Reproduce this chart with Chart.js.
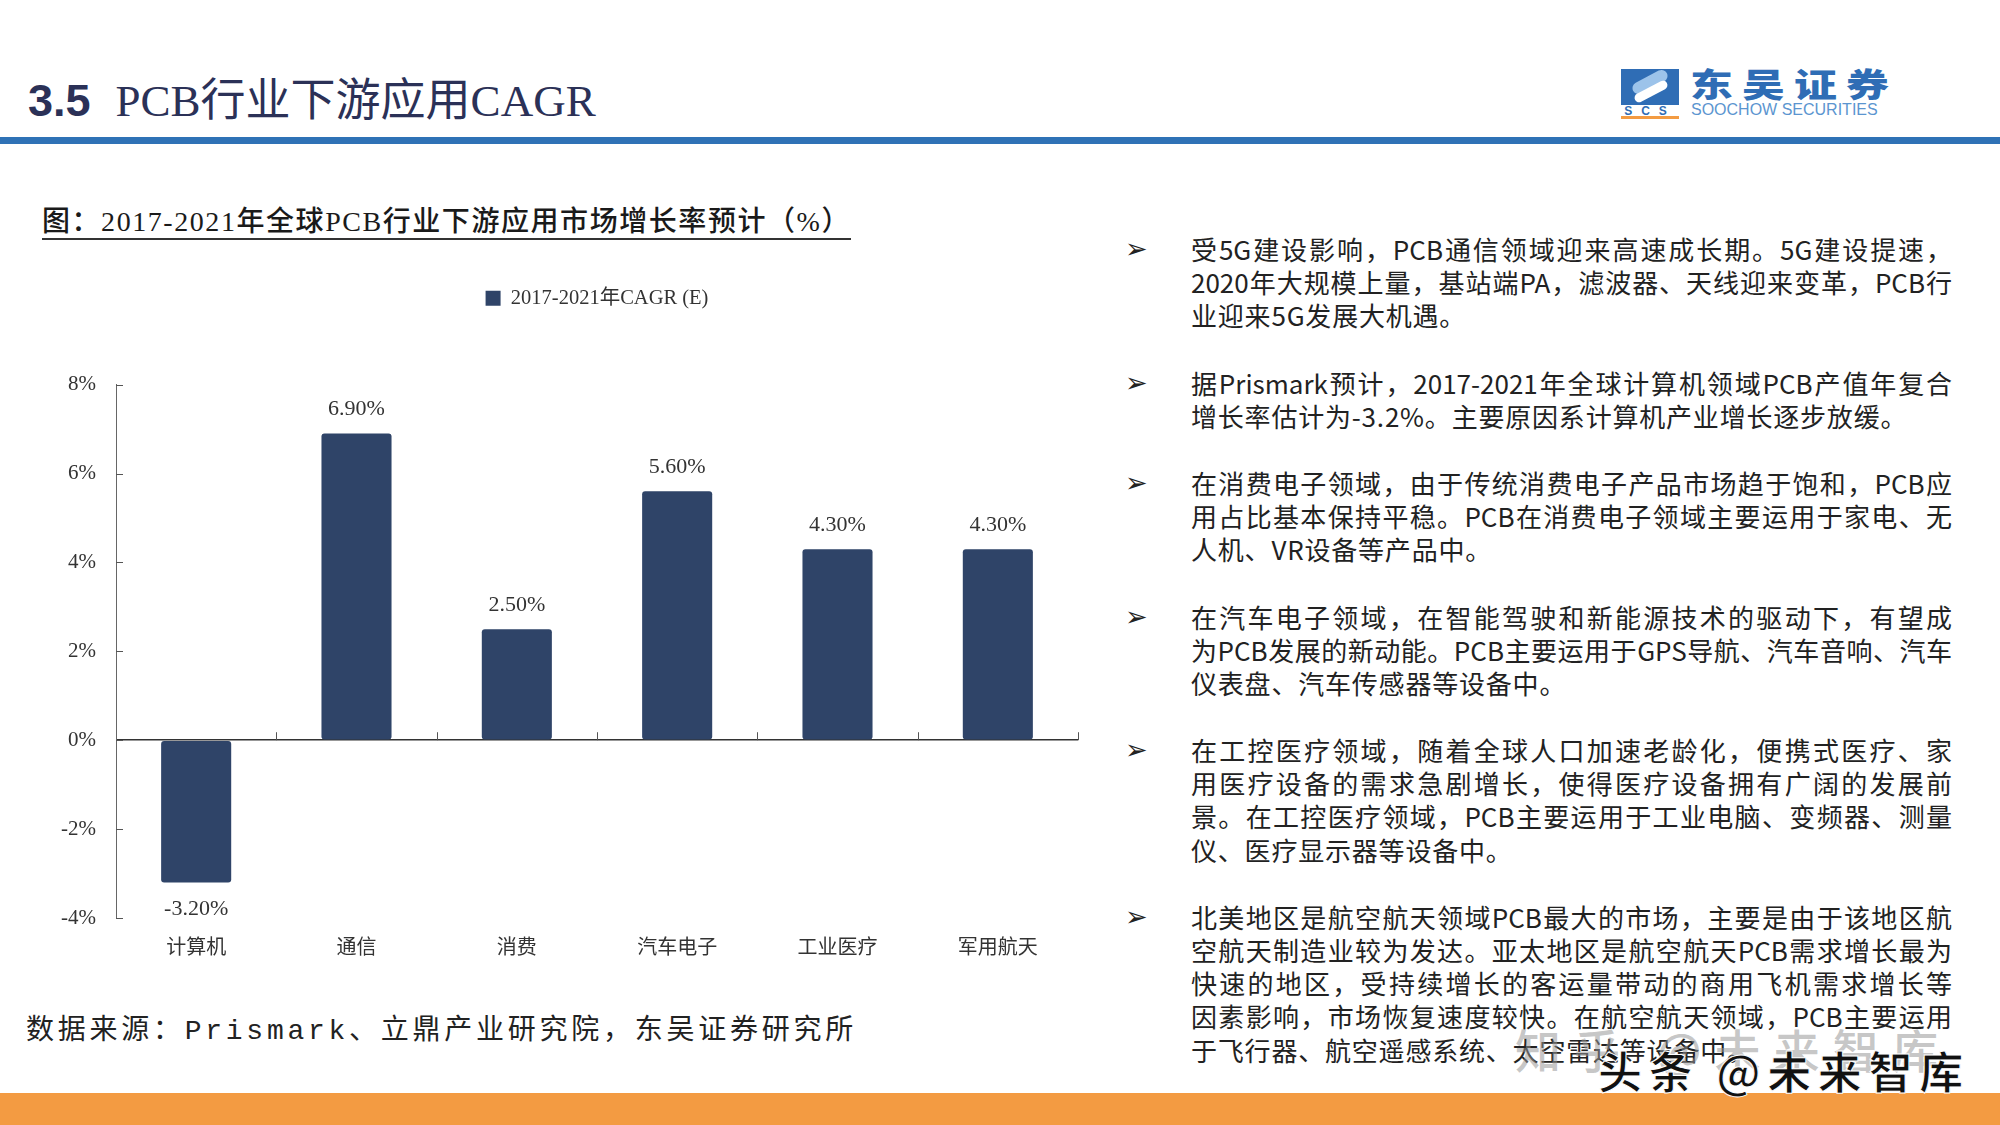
<!DOCTYPE html>
<html>
<head>
<meta charset="utf-8">
<script src="https://cdn.jsdelivr.net/npm/chart.js@4.4.0/dist/chart.umd.min.js"></script>
<style>
  html, body { margin: 0; padding: 0; background: #fff; }
  #page { position: relative; width: 2000px; height: 1125px; overflow: hidden; background: #fff; }
  .abs { position: absolute; white-space: nowrap; }
  #title { left: 28px; top: 64px; height: 50px; line-height: 50px; color: #2b3157; }
  #title .num { font: bold 45px "Liberation Sans", Arial, sans-serif; }
  #title .ttl { font: 45px "Liberation Serif", "Noto Sans CJK SC", serif; margin-left: 25px; }
  #rule { left: 0; top: 137px; width: 2000px; height: 7px; background: #2f72b6; }
  #orange { left: 0; top: 1093px; width: 2000px; height: 32px; background: #f39b42; }
  #logoIcon { left: 1621px; top: 69px; width: 58px; height: 36px; background: #2f6db5; overflow: hidden; }
  #logoIcon .s1 { position: absolute; left: 10px; top: 7px; width: 38px; height: 12px; border-radius: 8px; background: #9cc3ea; transform: rotate(-28deg); }
  #logoIcon .s2 { position: absolute; left: 12px; top: 18px; width: 36px; height: 9px; border-radius: 6px; background: #fff; transform: rotate(-28deg); }
  #logoScs { left: 1621px; top: 104px; width: 58px; font: bold 12px "Liberation Sans", sans-serif; color: #2f6db5; letter-spacing: 9px; text-align: center; }
  #logoLine { left: 1621px; top: 116px; width: 58px; height: 3px; background: #f39b42; }
  #logoCn { left: 1690px; top: 62px; font: 900 33px "Noto Sans CJK SC", sans-serif; color: #2f6db5; transform: scaleX(1.3); transform-origin: left top; letter-spacing: 7px; line-height: 42px; }
  #logoEn { left: 1691px; top: 101px; font: 16px "Liberation Sans", sans-serif; color: #5b95d0; line-height: 18px; }
  #subtitle { left: 42px; top: 206px; font: 500 28px "Liberation Serif", "Noto Sans CJK SC", serif; color: #1a1a1a; line-height: 32px; border-bottom: 2px solid #333; }
  #source { left: 26px; top: 1014px; font: 28px "Liberation Mono", "Noto Sans CJK SC", monospace; color: #222; line-height: 36px; }
  #chartBox { left: 0; top: 0; width: 1100px; height: 980px; }
  #notes { left: 1191px; top: 232px; width: 761px; font: 26px "Noto Sans CJK SC", sans-serif; color: #222; }
  #notes .para { position: relative; margin-bottom: 34px; }
  #notes .line { height: 33.2px; line-height: 33.2px; white-space: nowrap; letter-spacing: 0.8px; }
  #notes .line.full { text-align: justify; text-align-last: justify; letter-spacing: 0; overflow: hidden; }
  #notes .bullet { position: absolute; left: -66px; top: 0; font: 27px "DejaVu Sans", sans-serif; line-height: 33.2px; color: #222; }
  #wm1 { left: 1515px; top: 1020px; font: 500 46px "Noto Sans CJK SC", sans-serif; color: rgba(150,150,150,0.55); line-height: 56px; }
  #wm2 { left: 1598px; top: 1043px; font: 700 44px "Noto Sans CJK SC", sans-serif; color: #111; -webkit-text-stroke: 1px #fff; line-height: 54px; }
</style>
</head>
<body>
<div id="page">
  <div id="title" class="abs"><span class="num">3.5</span><span class="ttl">PCB行业下游应用CAGR</span></div>
  <div id="logoIcon" class="abs"><div class="s1"></div><div class="s2"></div></div>
  <div id="logoScs" class="abs">SCS</div>
  <div id="logoLine" class="abs"></div>
  <div id="logoCn" class="abs">东吴证券</div>
  <div id="logoEn" class="abs">SOOCHOW SECURITIES</div>
  <div id="rule" class="abs"></div>
  <div id="subtitle" class="abs">图：2017-2021年全球PCB行业下游应用市场增长率预计（%）</div>
  <div id="chartBox" class="abs"><canvas id="chart" width="1100" height="980"></canvas></div>
  <div id="source" class="abs">数据来源：Prismark、立鼎产业研究院，东吴证券研究所</div>
  <div id="notes" class="abs"></div>
  <div id="orange" class="abs"></div>
  <div id="wm1" class="abs">知乎 @未来智库</div>
  <div id="wm2" class="abs">头条 @未来智库</div>
</div>
<script>
const categories = ['计算机', '通信', '消费', '汽车电子', '工业医疗', '军用航天'];
const cagrValues = [-3.2, 6.9, 2.5, 5.6, 4.3, 4.3];
const seriesName = '2017-2021年CAGR (E)';
const yMin = -4;
const yMax = 8;
const yStep = 2;

const notes = [
  ['受5G建设影响，PCB通信领域迎来高速成长期。5G建设提速，',
   '2020年大规模上量，基站端PA，滤波器、天线迎来变革，PCB行',
   '业迎来5G发展大机遇。'],
  ['据Prismark预计，2017-2021年全球计算机领域PCB产值年复合',
   '增长率估计为-3.2%。主要原因系计算机产业增长逐步放缓。'],
  ['在消费电子领域，由于传统消费电子产品市场趋于饱和，PCB应',
   '用占比基本保持平稳。PCB在消费电子领域主要运用于家电、无',
   '人机、VR设备等产品中。'],
  ['在汽车电子领域，在智能驾驶和新能源技术的驱动下，有望成',
   '为PCB发展的新动能。PCB主要运用于GPS导航、汽车音响、汽车',
   '仪表盘、汽车传感器等设备中。'],
  ['在工控医疗领域，随着全球人口加速老龄化，便携式医疗、家',
   '用医疗设备的需求急剧增长，使得医疗设备拥有广阔的发展前',
   '景。在工控医疗领域，PCB主要运用于工业电脑、变频器、测量',
   '仪、医疗显示器等设备中。'],
  ['北美地区是航空航天领域PCB最大的市场，主要是由于该地区航',
   '空航天制造业较为发达。亚太地区是航空航天PCB需求增长最为',
   '快速的地区，受持续增长的客运量带动的商用飞机需求增长等',
   '因素影响，市场恢复速度较快。在航空航天领域，PCB主要运用',
   '于飞行器、航空遥感系统、太空雷达等设备中。']
];

const notesBox = document.getElementById('notes');
notes.forEach(lines => {
  const p = document.createElement('div');
  p.className = 'para';
  const b = document.createElement('div');
  b.className = 'bullet';
  b.textContent = '➢';
  p.appendChild(b);
  lines.forEach((t, i) => {
    const l = document.createElement('div');
    l.className = i < lines.length - 1 ? 'line full' : 'line';
    l.textContent = t;
    p.appendChild(l);
  });
  notesBox.appendChild(p);
});

function fitWidth(id, target) {
  const el = document.getElementById(id);
  el.style.display = 'inline-block';
  el.style.letterSpacing = '0px';
  const w = el.getBoundingClientRect().width;
  const n = el.textContent.length;
  el.style.letterSpacing = ((target - w) / n) + 'px';
}
fitWidth('subtitle', 809);
fitWidth('source', 831);
fitWidth('wm1', 436);
fitWidth('wm2', 372);

// ticks drawn inward from the axes, like the original chart
const innerTicks = {
  id: 'innerTicks',
  afterDatasetsDraw(chart) {
    const {ctx, chartArea, scales: {x, y}} = chart;
    ctx.save();
    ctx.strokeStyle = '#555';
    ctx.lineWidth = 1;
    y.ticks.forEach(t => {
      const py = Math.round(y.getPixelForValue(t.value)) + 0.5;
      ctx.beginPath();
      ctx.moveTo(chartArea.left, py);
      ctx.lineTo(chartArea.left + 7, py);
      ctx.stroke();
    });
    const zero = y.getPixelForValue(0);
    for (let i = 0; i < categories.length; i++) {
      const px = Math.round((x.getPixelForValue(i) + x.getPixelForValue(i + 1)) / 2) + 0.5;
      ctx.beginPath();
      ctx.moveTo(px, zero);
      ctx.lineTo(px, zero - 8);
      ctx.stroke();
    }
    ctx.restore();
  }
};

const valueLabels = {
  id: 'valueLabels',
  afterDatasetsDraw(chart) {
    const {ctx} = chart;
    const meta = chart.getDatasetMeta(0);
    ctx.save();
    ctx.font = '22px "Liberation Serif", serif';
    ctx.fillStyle = '#333';
    ctx.textAlign = 'center';
    ctx.textBaseline = 'middle';
    meta.data.forEach((bar, i) => {
      const v = cagrValues[i];
      const ty = v >= 0 ? bar.y - 24 : bar.y + 27;
      ctx.fillText(v.toFixed(2) + '%', bar.x, ty);
    });
    ctx.restore();
  }
};

new Chart(document.getElementById('chart').getContext('2d'), {
  type: 'bar',
  data: {
    labels: categories,
    datasets: [{
      label: seriesName,
      data: cagrValues,
      backgroundColor: '#2f4468',
      borderRadius: 3,
      borderSkipped: false,
      categoryPercentage: 1,
      barPercentage: 0.437
    }]
  },
  options: {
    responsive: false,
    animation: false,
    layout: { padding: { top: 278, left: 0, right: 22, bottom: 0 } },
    plugins: {
      legend: {
        position: 'top',
        fullSize: false,
        labels: {
          boxWidth: 15,
          boxHeight: 15,
          padding: 10,
          color: '#333',
          font: { family: '"Liberation Serif", "Noto Sans CJK SC", serif', size: 20.5 }
        }
      },
      // empty spacer between legend and plot area
      subtitle: {
        display: true,
        text: '',
        weight: 500,
        font: { size: 1 },
        padding: { top: 0, bottom: 65 }
      },
      tooltip: { enabled: false }
    },
    scales: {
      x: {
        grid: { display: false },
        border: { display: false },
        ticks: {
          color: '#333',
          padding: 8,
          font: { family: '"Noto Sans CJK SC", sans-serif', size: 20 }
        },
        afterFit: s => { s.height = 62; }
      },
      y: {
        min: yMin,
        max: yMax,
        ticks: {
          stepSize: yStep,
          color: '#333',
          padding: 20,
          font: { family: '"Liberation Serif", serif', size: 21 },
          callback: v => v + '%'
        },
        grid: {
          drawTicks: false,
          lineWidth: 1.5,
          color: c => (c.tick && c.tick.value === 0 ? '#333' : 'rgba(0,0,0,0)')
        },
        border: { display: true, color: '#666', width: 1 },
        afterFit: s => { s.width = 116; }
      }
    }
  },
  plugins: [innerTicks, valueLabels]
});
</script>
</body>
</html>
